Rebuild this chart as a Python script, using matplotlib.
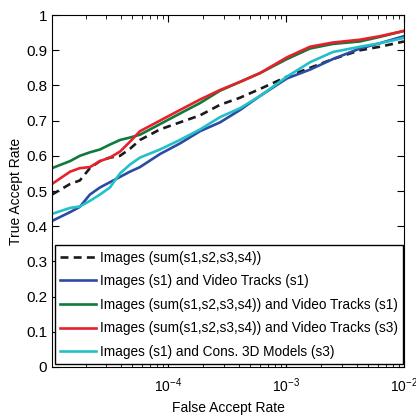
import matplotlib
matplotlib.use("Agg")
import matplotlib.pyplot as plt
import numpy as np

plt.rcParams['font.family'] = ['Liberation Sans', 'DejaVu Sans']

# false accept rate sample points (shared by all curves)
far = [1.04e-5, 1.48e-5, 1.79e-5, 2.18e-5, 2.65e-5, 3.22e-5, 3.92e-5, 4.76e-5,
       5.79e-5, 8.55e-5, 1.26e-4, 1.87e-4, 2.76e-4, 4.07e-4, 6.02e-4, 1.02e-3,
       1.6e-3, 2.5e-3, 4.24e-3, 6.26e-3, 1e-2]

tar_img = [0.49, 0.52, 0.53, 0.565, 0.585, 0.595, 0.60, 0.62, 0.645, 0.675, 0.695,
           0.715, 0.745, 0.765, 0.79, 0.825, 0.85, 0.875, 0.90, 0.91, 0.925]
tar_s1_vt = [0.415, 0.44, 0.455, 0.49, 0.51, 0.525, 0.54, 0.555, 0.568, 0.605, 0.635,
             0.67, 0.695, 0.73, 0.77, 0.82, 0.845, 0.875, 0.905, 0.92, 0.94]
tar_sum_vt1 = [0.565, 0.585, 0.60, 0.61, 0.618, 0.632, 0.645, 0.652, 0.66, 0.69, 0.72,
               0.75, 0.785, 0.81, 0.835, 0.875, 0.905, 0.918, 0.925, 0.938, 0.955]
tar_sum_vt3 = [0.52, 0.555, 0.565, 0.568, 0.585, 0.595, 0.612, 0.64, 0.67, 0.70, 0.73,
               0.76, 0.787, 0.81, 0.835, 0.88, 0.91, 0.922, 0.93, 0.94, 0.955]
tar_s1_3d = [0.435, 0.452, 0.456, 0.472, 0.49, 0.51, 0.55, 0.575, 0.595, 0.618, 0.645,
             0.675, 0.71, 0.735, 0.77, 0.825, 0.866, 0.895, 0.91, 0.92, 0.935]

labels = ['Images (sum(s1,s2,s3,s4))',
          'Images (s1) and Video Tracks (s1)',
          'Images (sum(s1,s2,s3,s4)) and Video Tracks (s1)',
          'Images (sum(s1,s2,s3,s4)) and Video Tracks (s3)',
          'Images (s1) and Cons. 3D Models (s3)']

fig = plt.figure(figsize=(4.16, 4.15), dpi=100)
ax = fig.add_axes([0.125, 0.1157, 0.846, 0.848])

lw = 1.9
ax.plot(far, tar_img, color='#1a1a1a', lw=lw, ls=(0, (3, 2)), label=labels[0])
ax.plot(far, tar_s1_vt, color='#2b4ba3', lw=lw, label=labels[1])
ax.plot(far, tar_sum_vt1, color='#0f7a3c', lw=lw, label=labels[2])
ax.plot(far, tar_sum_vt3, color='#e8202a', lw=lw, label=labels[3])
ax.plot(far, tar_s1_3d, color='#22c0c8', lw=lw, label=labels[4])

ax.set_xscale('log')
ax.set_xlim(1.04e-5, 1e-2)
ax.set_ylim(0, 1)
ax.set_yticks(np.arange(0, 1.01, 0.1))
ax.set_yticklabels(['0', '0.1', '0.2', '0.3', '0.4', '0.5', '0.6', '0.7', '0.8', '0.9', '1'])
ax.tick_params(which='both', direction='in', top=True, right=True)
ax.tick_params(which='major', length=5)
ax.tick_params(which='minor', length=3)
ax.tick_params(axis='y', labelsize=11)
ax.tick_params(axis='x', labelsize=10, pad=7)
ax.set_xlabel('False Accept Rate', fontsize=10, labelpad=4)
ax.set_ylabel('True Accept Rate', fontsize=10, labelpad=2)

leg = ax.legend(loc='lower left', bbox_to_anchor=(0.0, 0.0), fontsize=9.8,
                handlelength=2.6, labelspacing=0.7, handletextpad=0.3,
                borderaxespad=0.2, fancybox=False, framealpha=1, edgecolor='black')
leg.get_frame().set_linewidth(1.0)

fig.savefig('out.png', dpi=100)
